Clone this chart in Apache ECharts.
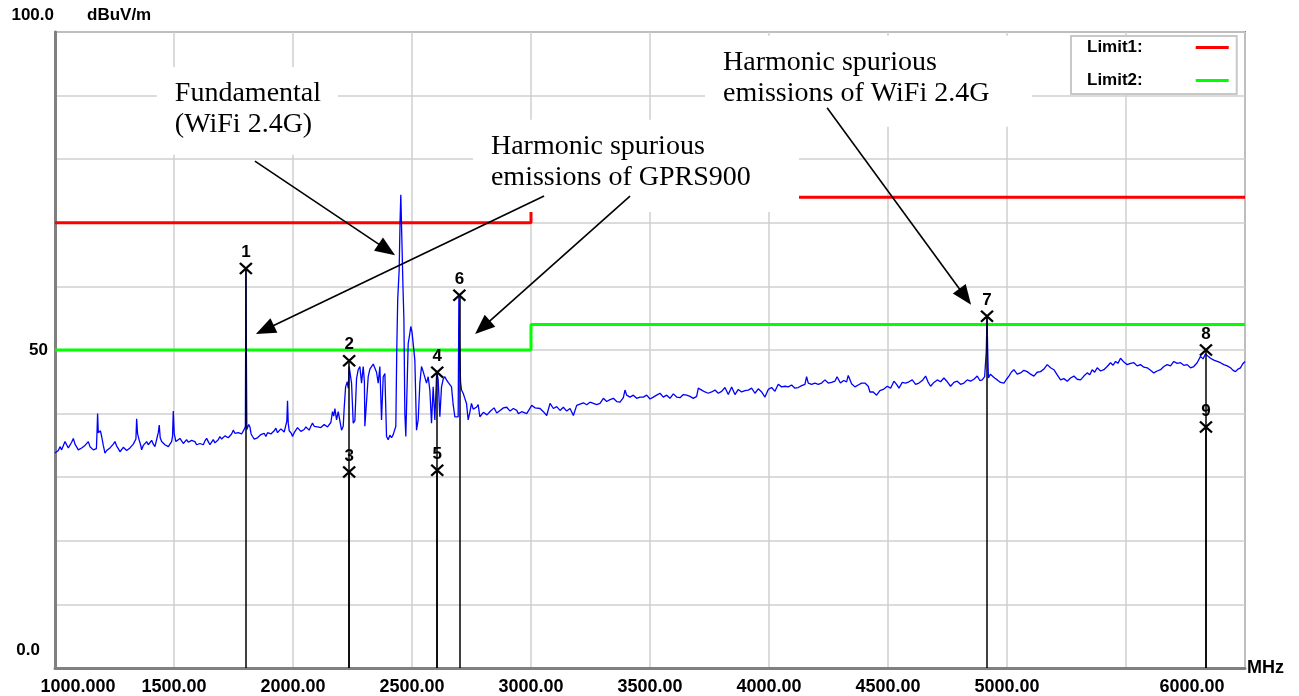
<!DOCTYPE html>
<html><head><meta charset="utf-8">
<script src="https://cdn.jsdelivr.net/npm/echarts@6/dist/echarts.min.js"></script>
<style>html,body{margin:0;padding:0;background:#fff;}#c{width:1299px;height:696px;}</style>
</head><body><div id="c"></div>
<script>
// ---------- data (MHz, dBuV/m) ----------
const traceLow = [
[1000,33.8],[1007,33.7],[1014,34.2],[1021,34.8],[1028,34.3],[1035,34.5],[1042,35.6],[1049,35.3],[1056,34.6],[1063,34.5],
[1070,35.5],[1077,36.1],[1084,35.2],[1091,35.1],[1098,34.3],[1105,34.0],[1112,34.6],[1119,34.5],[1126,35.0],[1133,35.3],
[1140,35.6],[1147,34.8],[1154,34.5],[1161,34.3],[1168,34.6],[1174,34.5],[1177,37.5],[1179,40.0],[1182,37.0],[1186,36.9],
[1191,37.3],[1196,36.4],[1203,35.0],[1210,33.8],[1217,34.2],[1224,34.3],[1231,34.6],[1238,34.8],[1245,35.2],[1252,35.6],
[1259,34.9],[1266,34.5],[1273,34.0],[1280,34.3],[1287,34.7],[1294,34.5],[1301,34.2],[1308,34.0],[1315,34.6],[1322,34.8],
[1329,35.2],[1336,35.1],[1340,36.0],[1343,39.2],[1347,36.8],[1354,35.8],[1361,34.9],[1364,34.3],[1371,35.0],[1378,35.3],
[1385,35.6],[1392,35.1],[1399,35.4],[1406,35.8],[1413,35.2],[1420,34.8],[1425,35.6],[1430,36.4],[1434,37.0],[1438,38.2],
[1442,36.2],[1448,35.6],[1455,35.3],[1462,35.1],[1469,34.9],[1476,34.8],[1483,35.2],[1490,35.6],[1494,36.5],[1497,40.4],
[1501,36.8],[1508,35.6],[1515,35.9],[1525,36.1],[1532,35.7],[1539,35.3],[1546,35.6],[1553,35.9],[1560,35.5],[1567,35.3],
[1574,35.8],[1581,36.1],[1588,35.6],[1595,35.1],[1602,35.4],[1609,35.3],[1616,35.6],[1623,35.1],[1630,35.7],[1637,36.1],
[1644,35.6],[1651,35.1],[1658,35.5],[1665,35.9],[1672,35.4],[1679,35.3],[1686,35.9],[1693,36.4],[1700,36.0],[1707,35.9],
[1714,36.5],[1721,36.6],[1728,36.2],[1735,36.1],[1742,36.8],[1749,37.4],[1756,36.9],[1763,36.6],[1770,37.0],[1777,37.2],
[1784,36.8],[1791,36.9],[1796,37.6],[1800,38.0],[1802,62.8],[1804,50.0],[1806,37.5],[1809,37.4],[1814,38.3],[1819,37.9],
[1824,36.8],[1830,36.4],[1837,36.0],[1844,35.8],[1851,36.2],[1858,36.4],[1865,36.7],[1872,36.6],[1879,36.9],[1886,36.4],
[1893,37.0],[1900,37.2],[1907,36.8],[1914,36.9],[1921,37.3],[1928,37.7],[1935,37.0],[1942,37.2],[1949,37.6],[1956,37.4],
[1963,37.1],[1970,38.2],[1974,38.8],[1977,42.0],[1980,38.5],[1984,37.3],[1987,37.2],[1993,36.9],[1998,36.4],[2005,37.0],
[2012,37.4],[2019,37.8],[2026,37.7],[2033,37.2],[2040,36.9],[2047,37.5],[2054,37.9],[2061,37.6],[2068,37.4],[2075,38.0],
[2082,38.5],[2089,38.0],[2096,37.7],[2103,37.9],[2110,38.2],[2117,37.8],[2124,37.7],[2131,38.3],[2138,38.2],[2145,37.9],
[2152,37.7],[2159,38.6],[2166,40.3],[2171,39.6],[2176,40.8]
];
const traceBand = [
[2183,39.0],[2190,40.3],[2197,40.0],[2204,37.4],[2211,38.0],[2215,40.8],[2221,44.2],[2228,45.0],[2232,44.0],[2236,47.4],
[2239,46.6],[2246,44.8],[2253,38.5],[2260,38.9],[2267,45.5],[2274,46.9],[2281,47.4],[2288,44.8],[2295,47.4],[2300,45.0],
[2302,38.0],[2309,38.0],[2316,45.8],[2323,47.0],[2330,47.4],[2337,47.8],[2344,47.6],[2351,46.5],[2358,44.8],[2365,47.4],
[2372,39.0],[2379,45.8],[2386,46.3],[2393,36.4],[2400,35.9],[2407,36.6],[2414,36.2],[2421,36.7],[2428,36.9],[2432,38.0],
[2436,50.0],[2440,58.0],[2446,62.5],[2450,70.5],[2453,74.4],[2457,68.0],[2462,60.0],[2466,54.8],[2470,40.0],[2474,36.4],
[2478,36.3],[2484,51.0],[2490,52.4],[2495,53.7],[2500,52.8],[2505,51.0],[2512,48.4],[2519,37.4],[2526,39.0],[2533,44.8],
[2540,47.4],[2547,46.6],[2554,46.3],[2561,44.8],[2568,45.8],[2575,43.7],[2582,38.5],[2589,44.2],[2596,39.0],[2603,45.8],
[2606,46.2],[2610,45.3],[2617,39.5],[2624,44.2],[2631,45.4],[2638,45.8],[2645,45.3],[2652,44.9],[2659,44.6],[2666,44.2],
[2673,41.4],[2680,39.5],[2687,39.4],[2694,39.5],[2697,58.6],[2700,50.5],[2704,45.0],[2708,43.7],[2715,43.2],[2722,42.4],
[2729,41.6],[2736,39.0],[2743,40.2],[2750,41.6],[2757,40.7],[2764,40.8],[2771,41.0],[2778,41.4],[2785,39.5],[2792,39.3]
];
const traceMid = [
[2800,40.2],[2815,39.8],[2830,40.4],[2845,40.9],[2856,40.1],[2870,40.5],[2884,40.9],[2898,41.0],[2912,40.4],[2926,40.8],
[2940,40.5],[2947,40.0],[2961,40.3],[2968,40.5],[2982,40.0],[2989,39.7],[3003,41.3],[3017,40.9],[3024,40.6],[3038,40.8],
[3052,40.3],[3066,39.7],[3080,41.6],[3094,40.8],[3108,41.1],[3122,40.5],[3136,41.0],[3150,40.4],[3164,40.8],[3178,39.7],
[3192,41.3],[3206,41.5],[3220,41.7],[3234,41.4],[3248,41.8],[3262,41.6],[3276,41.4],[3290,41.6],[3304,42.4],[3318,41.9],
[3332,42.2],[3346,42.4],[3360,41.9],[3374,41.8],[3388,42.5],[3395,43.7],[3402,42.9],[3416,42.6],[3430,42.9],[3444,42.4],
[3458,42.6],[3472,42.6],[3486,42.9],[3500,42.3],[3514,42.6],[3528,42.9],[3542,43.2],[3556,42.6],[3570,42.9],[3584,42.4],
[3598,43.1],[3612,42.6],[3626,42.5],[3640,43.0],[3654,42.9],[3668,42.7],[3682,42.4],[3696,42.7],[3703,44.0],[3717,43.7],
[3731,43.4],[3745,43.2],[3759,43.4],[3773,43.7],[3787,43.2],[3801,43.5],[3815,44.1],[3829,43.0],[3843,44.2],[3857,43.0],
[3871,43.8],[3885,43.4],[3899,43.6],[3913,43.7],[3927,44.0],[3941,43.2],[3955,43.9],[3969,43.4],[3983,42.6],[3997,43.8],
[4011,44.1],[4025,43.5],[4039,44.6],[4053,44.2],[4067,44.3],[4081,44.2],[4095,44.5],[4109,44.0],[4123,44.1],[4137,44.4],
[4151,44.6],[4158,45.8],[4165,44.8],[4179,44.6],[4193,44.8],[4207,44.6],[4221,44.8],[4235,45.3],[4249,44.8],[4263,44.9],
[4277,45.1],[4286,45.8],[4300,44.8],[4314,45.2],[4326,45.0],[4333,46.0],[4347,44.7],[4361,44.2],[4375,44.5],[4389,44.8],
[4403,44.8],[4417,44.3],[4424,43.4],[4438,43.4],[4452,42.9],[4466,43.6],[4480,43.8]
];
const traceHigh = [
[4497,44.3],[4511,44.0],[4525,45.1],[4536,44.6],[4546,44.0],[4560,44.9],[4574,44.8],[4588,45.0],[4602,45.3],[4616,44.6],
[4630,44.8],[4644,45.2],[4658,45.9],[4668,45.0],[4679,44.3],[4693,44.9],[4707,45.3],[4721,45.0],[4735,45.6],[4749,45.0],
[4763,44.3],[4777,44.9],[4791,45.1],[4805,44.6],[4819,44.8],[4833,45.3],[4847,45.1],[4861,45.4],[4875,45.9],[4886,45.2],
[4896,45.3],[4906,45.8],[4913,49.8],[4916,55.3],[4919,49.8],[4922,45.6],[4930,46.2],[4938,45.9],[4948,45.6],[4959,45.3],
[4973,44.9],[4987,44.8],[4998,45.4],[5008,45.9],[5018,46.5],[5029,46.9],[5043,46.2],[5057,46.4],[5071,46.8],[5085,46.6],
[5099,46.2],[5113,45.9],[5127,46.5],[5141,46.6],[5155,47.0],[5169,47.7],[5183,47.2],[5197,46.9],[5211,46.1],[5225,45.3],
[5239,45.5],[5253,45.1],[5267,45.6],[5281,45.9],[5295,45.4],[5309,45.3],[5323,45.9],[5337,46.4],[5348,46.1],[5358,46.9],
[5368,46.5],[5379,47.2],[5393,46.7],[5407,46.9],[5421,47.4],[5435,48.0],[5446,47.6],[5456,48.2],[5466,47.9],[5477,48.7],
[5491,48.1],[5505,47.7],[5519,47.9],[5533,48.0],[5547,47.5],[5561,47.7],[5575,47.3],[5589,47.2],[5603,46.8],[5617,46.4],
[5631,46.7],[5645,46.9],[5659,47.4],[5673,47.7],[5687,47.5],[5701,48.2],[5715,47.9],[5729,48.0],[5743,47.6],[5757,47.7],
[5771,47.2],[5785,47.4],[5799,48.0],[5813,49.0],[5824,48.6],[5834,49.4],[5845,49.0],[5855,48.7],[5869,48.4],[5883,48.2],
[5897,48.0],[5911,47.7],[5925,47.5],[5939,47.2],[5950,46.8],[5960,46.6],[5971,47.0],[5981,47.2],[5990,47.8],[6000,48.2]
];
const limit1Freq = [1000, 3000, 3000, 6000];
const limit1Db   = [70, 70, 74, 74];
const limit2Freq = [1000, 3000, 3000, 6000];
const limit2Db   = [50, 50, 54, 54];
const markerNo   = [1, 2, 3, 4, 5, 6, 7, 8, 9];
const markerFreq = [1802, 2236, 2236, 2606, 2606, 2699, 4916, 5836, 5836];
const markerDb   = [62.8, 48.3, 30.8, 46.5, 31.1, 58.6, 55.3, 50.0, 37.9];
const xTickValues = [1000, 1500, 2000, 2500, 3000, 3500, 4000, 4500, 5000, 5500, 6000];
const xTickText   = ['1000.000','1500.00','2000.00','2500.00','3000.00','3500.00','4000.00','4500.00','5000.00','','6000.00'];
const yTickValues = [0, 50, 100];
const yTickText   = ['0.0', '50', '100.0'];
const noteText = ['Fundamental\n(WiFi 2.4G)', 'Harmonic spurious\nemissions of GPRS900', 'Harmonic spurious\nemissions of WiFi 2.4G'];
// note boxes in data coords: [fLeft, dbTop, fRight, dbBottom]
const noteBox = [[1428, 94.5, 2189, 80.7], [2756, 86.2, 4126, 71.7], [3731, 99.4, 5105, 85.1]];
// arrows: from -> to (data coords)
const arrowFrom = [[1840, 79.7], [3055, 74.2], [3416, 74.2], [4244, 88.1]];
const arrowTo   = [[2429, 64.9], [1844, 52.5], [2765, 52.5], [4849, 57.1]];

// ---------- chart ----------
const SANS = '"Liberation Sans", Arial, sans-serif';
const SERIF = '"Liberation Serif", "Times New Roman", serif';
const chart = echarts.init(document.getElementById('c'));
const trace = traceLow.concat(traceBand, traceMid, traceHigh);
const lim1 = limit1Freq.map((f, i) => [f, limit1Db[i]]);
const lim2 = limit2Freq.map((f, i) => [f, limit2Db[i]]);
const markers = markerFreq.map((f, i) => [f, markerDb[i]]);
const markerLines = markerFreq.map((f, i) => [{coord: [f, 0]}, {coord: [f, markerDb[i]]}]);
const lblBase = {fontFamily: SANS, fontWeight: 'bold', color: '#000'};

const option = {
  animation: false,
  backgroundColor: '#fff',
  grid: {left: 55, right: 54, top: 32, bottom: 28, show: true, borderColor: '#8c8c8c', borderWidth: 2},
  legend: {
    data: ['Limit1:', 'Limit2:'], orient: 'vertical', left: 1071, top: 36, align: 'right',
    selectedMode: false, icon: 'rect', itemWidth: 33, itemHeight: 3, itemGap: 16,
    padding: [3, 8, 5, 16], borderColor: '#c8c8c8', borderWidth: 2, backgroundColor: '#fff',
    formatter: '{t|{name}}',
    textStyle: Object.assign({fontSize: 17, rich: {t: Object.assign({fontSize: 17, height: 20, padding: [0, 48, 0, 0]}, lblBase)}}, lblBase)
  },
  xAxis: {
    type: 'value', min: 1000, max: 6000, interval: 500,
    axisLine: {onZero: false, lineStyle: {color: '#808080', width: 3}},
    axisTick: {show: false},
    splitLine: {show: true, lineStyle: {color: '#cfcfcf', width: 1.5}},
    axisLabel: Object.assign({
      fontSize: 18, margin: 10, showMinLabel: true, showMaxLabel: true,
      formatter: v => {
        const i = xTickValues.indexOf(v);
        const t = i >= 0 ? xTickText[i] : '';
        if (v === 1000) return '{f|' + t + '}';
        if (v === 6000) return '{m|' + t + '}';
        return t;
      },
      rich: {
        f: Object.assign({fontSize: 18, padding: [0, 0, 0, 46]}, lblBase),
        m: Object.assign({fontSize: 18, padding: [0, 106, 0, 0]}, lblBase)
      }
    }, lblBase),
    name: 'MHz', nameLocation: 'end', nameGap: 2,
    nameTextStyle: Object.assign({fontSize: 18, align: 'left', verticalAlign: 'middle', padding: [36, 0, 0, 0]}, lblBase)
  },
  yAxis: {
    type: 'value', min: 0, max: 100, interval: 10,
    axisLine: {show: true, lineStyle: {color: '#808080', width: 3}},
    axisTick: {show: false},
    splitLine: {show: true, lineStyle: {color: '#cfcfcf', width: 1.5}},
    axisLabel: Object.assign({
      fontSize: 17, margin: 0, showMinLabel: true, showMaxLabel: true,
      formatter: v => {
        const i = yTickValues.indexOf(v);
        if (i < 0) return '';
        return '{' + ['b', 'a', 'c'][i] + '|' + yTickText[i] + '}';
      },
      rich: {
        a: Object.assign({fontSize: 17, padding: [0, 7, 0, 0]}, lblBase),
        b: Object.assign({fontSize: 17, padding: [0, 15, 36, 0]}, lblBase),
        c: Object.assign({fontSize: 17, padding: [0, 1, 34, 0]}, lblBase)
      }
    }, lblBase),
    name: 'dBuV/m', nameLocation: 'end', nameGap: 17,
    nameTextStyle: Object.assign({fontSize: 17, align: 'left', verticalAlign: 'middle', padding: [0, 0, 0, 32]}, lblBase)
  },
  series: [
    {name: 'Limit1:', type: 'line', data: lim1, symbol: 'none', z: 2,
     lineStyle: {color: '#ff0000', width: 3}, itemStyle: {color: '#ff0000'}},
    {name: 'Limit2:', type: 'line', data: lim2, symbol: 'none', z: 2,
     lineStyle: {color: '#00ff00', width: 3}, itemStyle: {color: '#00ff00'}},
    {name: 'markerLines', type: 'line', data: [], z: 3, symbol: 'none',
     markLine: {silent: true, symbol: ['none', 'none'], label: {show: false}, animation: false,
       lineStyle: {color: '#000', width: 1.5, type: 'solid', opacity: 1}, emphasis: {disabled: true}, data: markerLines}},
    {name: 'trace', type: 'line', data: trace, symbol: 'none', z: 4, sampling: null,
     lineStyle: {color: '#0000ff', width: 1.3}, itemStyle: {color: '#0000ff'}},
    {name: 'markers', type: 'scatter', data: markers, z: 6, silent: true,
     symbol: 'path://M0,0L10,10M10,0L0,10', symbolSize: [12, 11],
     itemStyle: {color: 'rgba(0,0,0,0)', borderColor: '#000', borderWidth: 2.2, opacity: 1},
     label: Object.assign({show: true, position: 'top', distance: 1, fontSize: 17, opacity: 1,
       formatter: p => String(markerNo[p.dataIndex])}, lblBase)}
  ]
};
chart.setOption(option);

// ---------- annotations (positioned from data coordinates) ----------
const px = (f, d) => chart.convertToPixel({gridIndex: 0}, [f, d]);
const g = [];
noteBox.forEach((b, i) => {
  const p0 = px(b[0], b[1]), p1 = px(b[2], b[3]);
  g.push({type: 'rect', z: 50, silent: true,
    shape: {x: p0[0], y: p0[1], width: p1[0] - p0[0], height: p1[1] - p0[1]}, style: {fill: '#fff'}});
  g.push({type: 'text', z: 51, silent: true, x: p0[0] + 18, y: p0[1] + 11,
    style: {text: noteText[i], font: '28px ' + SERIF, fill: '#000', lineHeight: 31, verticalAlign: 'top', align: 'left'}});
});
arrowFrom.forEach((a, i) => {
  const s = px(a[0], a[1]), t = px(arrowTo[i][0], arrowTo[i][1]);
  const dx = t[0] - s[0], dy = t[1] - s[1], L = Math.hypot(dx, dy), ux = dx / L, uy = dy / L;
  const hl = 20, hw = 8;
  const bx = t[0] - ux * hl, by = t[1] - uy * hl;
  g.push({type: 'line', z: 52, silent: true, shape: {x1: s[0], y1: s[1], x2: bx + ux * 2, y2: by + uy * 2},
    style: {stroke: '#000', lineWidth: 1.6}});
  g.push({type: 'polygon', z: 52, silent: true,
    shape: {points: [[t[0], t[1]], [bx - uy * hw, by + ux * hw], [bx + uy * hw, by - ux * hw]]}, style: {fill: '#000'}});
});
chart.setOption({graphic: g});
</script>
</body></html>
